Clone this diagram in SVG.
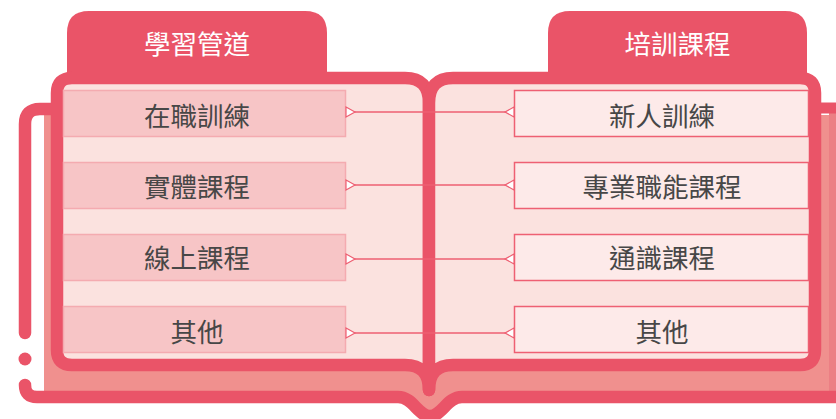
<svg xmlns="http://www.w3.org/2000/svg" width="836" height="419" viewBox="0 0 836 419">
<style>
.dark{fill:#EA5468}
.bord{fill:none;stroke:#EA5468;stroke-width:12.5;stroke-linecap:round;stroke-linejoin:round}
.page{fill:#FBE2DF;stroke:#EA5468;stroke-width:12.5;stroke-linejoin:round}
.lbox{fill:#F7C5C6;stroke:#F4ABB0;stroke-width:1.5}
.rbox{fill:#FDEAE9;stroke:#EE6073;stroke-width:1.5}
.t{font-family:"Noto Sans CJK TC","Noto Sans CJK SC",sans-serif;font-size:26.5px;fill:#474747;text-anchor:middle;dominant-baseline:central}
.tt{font-family:"Noto Sans CJK TC","Noto Sans CJK SC",sans-serif;font-size:26.5px;fill:#FFFFFF;text-anchor:middle;dominant-baseline:central}
.conn{fill:none;stroke:#EE5F72;stroke-width:1.5}
</style>
<defs>
<marker id="tri" viewBox="-11 -7 13 14" refX="0" refY="0" markerWidth="13" markerHeight="14" markerUnits="userSpaceOnUse" orient="auto-start-reverse">
<path d="M0,-5 L0,5 L-9,0 Z" fill="#FFFFFF" stroke="#EE5F72" stroke-width="1.2" stroke-linejoin="miter"/>
</marker>
</defs>
<rect width="836" height="419" fill="#FFFFFF"/>
<g id="book">
<path d="M44 115 L836 115 L836 397 L462 397 C447 397 442 416 430 416 C418 416 413 397 398 397 L44 397 Z" fill="#F0908E"/>
<rect x="829" y="113" width="7" height="279" fill="#EC7F84"/>
<path class="bord" d="M25 333 L25 124 Q25 109 40 109 L60 109"/>
<path d="M815 108 L836 108" fill="none" stroke="#EA5468" stroke-width="11"/>
<circle cx="25" cy="359" r="6.5" class="dark"/>
<path class="bord" d="M25 385 Q25 397 37 397 L398 397 C413 397 418 416 430 416 C442 416 447 397 462 397 L845 397"/>
</g>
<g id="tab-left">
<path class="dark" d="M67 80 L67 33 Q67 11 89 11 L305 11 Q327 11 327 33 L327 80 Z"/>
<text class="tt" x="197" y="42.5">學習管道</text>
</g>
<g id="tab-right">
<path class="dark" d="M548 80 L548 33 Q548 11 570 11 L785 11 Q807 11 807 33 L807 80 Z"/>
<text class="tt" x="677.5" y="42.5">培訓課程</text>
</g>
<g id="page-left">
<path class="page" d="M429 103 Q429 78 405 78 L72 78 Q57 78 57 93 L57 350 Q57 365 72 365 L405 365 Q429 365 429 390 Z"/>
</g>
<g id="page-right">
<path class="page" d="M429 103 Q429 78 453 78 L800 78 Q815 78 815 93 L815 350 Q815 365 800 365 L453 365 Q429 365 429 390 Z"/>
</g>
<g id="node-l1"><rect class="lbox" x="63.5" y="90.5" width="282" height="46"/><text class="t" x="197" y="114">在職訓練</text></g>
<g id="node-l2"><rect class="lbox" x="63.5" y="162.5" width="282" height="46"/><text class="t" x="197" y="185.5">實體課程</text></g>
<g id="node-l3"><rect class="lbox" x="63.5" y="234.5" width="282" height="46"/><text class="t" x="197" y="256.5">線上課程</text></g>
<g id="node-l4"><rect class="lbox" x="63.5" y="306.5" width="282" height="46"/><text class="t" x="197" y="330">其他</text></g>
<g id="node-r1"><rect class="rbox" x="514.5" y="90.5" width="294" height="46"/><text class="t" x="662" y="114">新人訓練</text></g>
<g id="node-r2"><rect class="rbox" x="514.5" y="162.5" width="294" height="46"/><text class="t" x="662" y="185.5">專業職能課程</text></g>
<g id="node-r3"><rect class="rbox" x="514.5" y="234.5" width="294" height="46"/><text class="t" x="662" y="256.5">通識課程</text></g>
<g id="node-r4"><rect class="rbox" x="514.5" y="306.5" width="294" height="46"/><text class="t" x="662" y="330">其他</text></g>
<g id="connectors">
<path class="conn" d="M346 112 L514 112" marker-start="url(#tri)" marker-end="url(#tri)"/>
<path class="conn" d="M346 185 L514 185" marker-start="url(#tri)" marker-end="url(#tri)"/>
<path class="conn" d="M346 259 L514 259" marker-start="url(#tri)" marker-end="url(#tri)"/>
<path class="conn" d="M346 333 L514 333" marker-start="url(#tri)" marker-end="url(#tri)"/>
</g>
</svg>
